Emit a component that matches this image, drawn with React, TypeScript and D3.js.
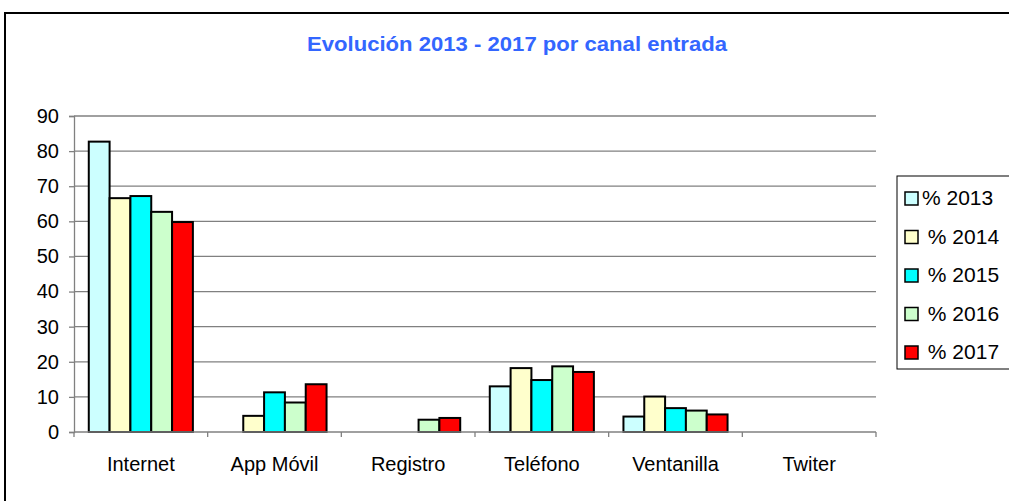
import React, { useEffect, useRef } from 'react';
import * as d3 from 'd3';

const categories = ['Internet', 'App Móvil', 'Registro', 'Teléfono', 'Ventanilla', 'Twiter'];
const seriesNames = ['% 2013', ' % 2014', ' % 2015', ' % 2016', ' % 2017'];
const seriesColors = ['#CCFFFF', '#FFFFCC', '#00FFFF', '#CCFFCC', '#FF0000'];
const pct2013 = [82.7, 0, 0, 13.0, 4.4, 0];
const pct2014 = [66.6, 4.6, 0, 18.2, 10.1, 0];
const pct2015 = [67.2, 11.3, 0, 14.8, 6.8, 0];
const pct2016 = [62.7, 8.4, 3.5, 18.7, 6.1, 0];
const pct2017 = [59.8, 13.6, 4.0, 17.1, 5.0, 0];
const yTicks = [0, 10, 20, 30, 40, 50, 60, 70, 80, 90];

const App = () => {
  const ref = useRef(null);

  useEffect(() => {
    const svg = d3.select(ref.current);
    svg.selectAll('*').remove();

    const series = [pct2013, pct2014, pct2015, pct2016, pct2017];
    const font = 'Liberation Sans, Arial, sans-serif';

    // outer chart frame
    svg.append('rect')
      .attr('x', 5).attr('y', 13)
      .attr('width', 1020).attr('height', 500)
      .attr('fill', '#fff').attr('stroke', '#000').attr('stroke-width', 2);

    svg.append('text')
      .attr('x', 517).attr('y', 51)
      .attr('text-anchor', 'middle')
      .attr('font-family', font).attr('font-weight', 'bold').attr('font-size', 20)
      .attr('textLength', 420).attr('lengthAdjust', 'spacingAndGlyphs')
      .attr('fill', '#3366FF')
      .text('Evolución 2013 - 2017 por canal entrada');

    const x = d3.scaleBand().domain(categories).range([74, 876]);
    const y = d3.scaleLinear().domain([0, 90]).range([432, 116]);
    const inner = d3.scaleBand().domain(d3.range(5).map(String))
      .range([0, x.bandwidth()]).paddingOuter(0.71);

    // gridlines
    svg.append('g').selectAll('line').data(yTicks.slice(1)).join('line')
      .attr('x1', 74).attr('x2', 876)
      .attr('y1', d => y(d)).attr('y2', d => y(d))
      .attr('stroke', '#808080').attr('stroke-width', 1.3);

    // y axis
    const yAxis = d3.axisLeft(y).tickValues(yTicks).tickSize(5).tickPadding(10);
    const gy = svg.append('g').attr('transform', 'translate(74,0)').call(yAxis);
    gy.select('.domain').attr('stroke', '#808080').attr('stroke-width', 1.3);
    gy.selectAll('line').attr('stroke', '#808080').attr('stroke-width', 1.3);
    gy.selectAll('text').attr('font-family', font).attr('font-size', 20).attr('fill', '#000');

    // bars
    series.forEach((vals, si) => {
      svg.append('g').selectAll('rect')
        .data(vals.map((v, i) => ({ v, c: categories[i] })).filter(d => d.v > 0))
        .join('rect')
        .attr('x', d => x(d.c) + inner(String(si)))
        .attr('y', d => y(d.v))
        .attr('width', inner.bandwidth())
        .attr('height', d => y(0) - y(d.v))
        .attr('fill', seriesColors[si])
        .attr('stroke', '#000').attr('stroke-width', 2);
    });

    // x axis
    svg.append('line')
      .attr('x1', 74).attr('x2', 876).attr('y1', 432).attr('y2', 432)
      .attr('stroke', '#808080').attr('stroke-width', 1.3);
    const bounds = categories.map(c => x(c)).concat([876]);
    svg.append('g').selectAll('line').data(bounds).join('line')
      .attr('x1', d => d).attr('x2', d => d).attr('y1', 432).attr('y2', 437)
      .attr('stroke', '#808080').attr('stroke-width', 1.3);
    svg.append('g').selectAll('text').data(categories).join('text')
      .attr('x', d => x(d) + x.bandwidth() / 2).attr('y', 471)
      .attr('text-anchor', 'middle')
      .attr('font-family', font).attr('font-size', 20)
      .text(d => d);

    // legend
    svg.append('rect')
      .attr('x', 897).attr('y', 176).attr('width', 120).attr('height', 193)
      .attr('fill', '#fff').attr('stroke', '#000').attr('stroke-width', 1);
    const lg = svg.append('g').selectAll('g').data(seriesNames).join('g')
      .attr('transform', (d, i) => `translate(905,${198 + i * 38.5})`);
    lg.append('rect')
      .attr('x', 0).attr('y', -6).attr('width', 13).attr('height', 13)
      .attr('fill', (d, i) => seriesColors[i])
      .attr('stroke', '#000').attr('stroke-width', 1.5);
    lg.append('text')
      .attr('x', 17).attr('y', 7)
      .attr('font-family', font).attr('font-size', 21)
      .attr('xml:space', 'preserve')
      .style('white-space', 'pre')
      .text(d => d);
  }, []);

  return (
    <svg ref={ref} width={1009} height={501}
      style={{ position: 'absolute', left: 0, top: 0, background: '#fff' }} />
  );
};

export default App;
